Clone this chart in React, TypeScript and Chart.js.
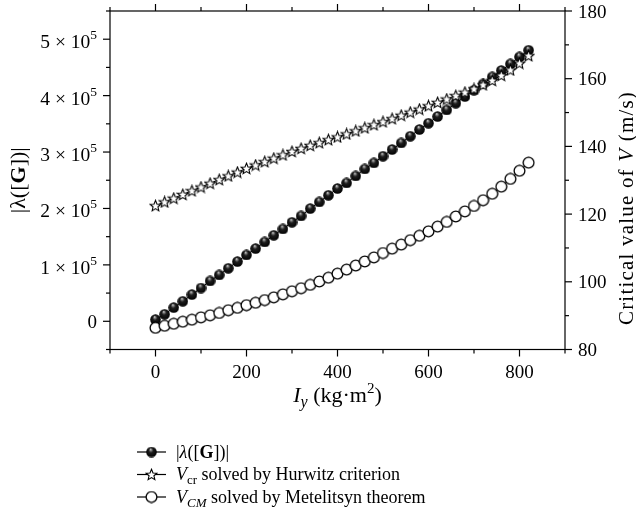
import React, { useEffect, useRef } from "react";
import { Chart, registerables } from "chart.js";

Chart.register(...registerables);

// ---------- data ----------
const iyValues = [
  0, 20, 40, 60, 80, 100, 120, 140, 160, 180, 200, 220, 240, 260, 280, 300, 320, 340, 360, 380, 400,
  420, 440, 460, 480, 500, 520, 540, 560, 580, 600, 620, 640, 660, 680, 700, 720, 740, 760, 780, 800, 820,
];
const lambdaG = [
  3000, 12400, 24300, 35500, 47300, 59000, 71500, 82100, 94000, 105800, 117600, 128900, 140600, 152500,
  163700, 175500, 186700, 199800, 211500, 223400, 235300, 245200, 257600, 270000, 280700, 292600, 304400,
  316100, 328000, 339900, 351100, 362900, 374600, 386500, 398400, 409600, 420700, 433200, 444500, 456200,
  468600, 480500,
];
const vHurwitz = [
  122.5, 123.6, 124.7, 125.8, 126.9, 128.0, 129.1, 130.2, 131.3, 132.4, 133.5, 134.5, 135.5, 136.5, 137.5,
  138.5, 139.4, 140.3, 141.1, 142.0, 142.8, 143.7, 144.6, 145.5, 146.4, 147.3, 148.2, 149.2, 150.1, 151.0,
  152.0, 153.0, 154.0, 155.0, 156.0, 157.0, 158.2, 159.5, 161.0, 162.6, 164.6, 166.8,
];
const vMetelitsyn = [
  86.4, 87.0, 87.6, 88.2, 88.8, 89.5, 90.1, 90.8, 91.6, 92.3, 93.1, 93.8, 94.6, 95.4, 96.3, 97.2, 98.1,
  99.1, 100.1, 101.2, 102.4, 103.6, 104.8, 106.0, 107.2, 108.5, 109.8, 111.0, 112.3, 113.6, 114.9, 116.3,
  117.7, 119.3, 120.8, 122.4, 124.1, 126.0, 128.1, 130.4, 132.8, 135.2,
];

const xMajorTicks = [0, 200, 400, 600, 800];
const xMinorTicks = [-100, 100, 300, 500, 700, 900];
const leftMajorTicks = [0, 100000, 200000, 300000, 400000, 500000];
const leftMinorTicks = [-50000, 50000, 150000, 250000, 350000, 450000, 550000];
const rightMajorTicks = [80, 100, 120, 140, 160, 180];
const rightMinorTicks = [90, 110, 130, 150, 170];

const SERIF = '"Liberation Serif", "DejaVu Serif", serif';
const f = (size: number, style = "") => `${style} ${size}px ${SERIF}`.trim();

type Seg = { t: string; font: string; dy?: number };

function drawSegs(
  ctx: CanvasRenderingContext2D,
  segs: Seg[],
  x: number,
  y: number,
  align: "left" | "center" | "right",
  spacing = 0
) {
  (ctx as any).letterSpacing = `${spacing}px`;
  const widths = segs.map((s) => {
    ctx.font = s.font;
    return ctx.measureText(s.t).width;
  });
  const total = widths.reduce((a, b) => a + b, 0);
  let cx = align === "left" ? x : align === "center" ? x - total / 2 : x - total;
  ctx.textAlign = "left";
  ctx.textBaseline = "alphabetic";
  segs.forEach((s, i) => {
    ctx.font = s.font;
    ctx.fillText(s.t, cx, y + (s.dy || 0));
    cx += widths[i];
  });
  (ctx as any).letterSpacing = "0px";
}

function makeSphere(d: number) {
  const c = document.createElement("canvas");
  c.width = d;
  c.height = d;
  const g = c.getContext("2d")!;
  const r = d / 2;
  const grad = g.createRadialGradient(r - r * 0.15, r - r * 0.5, r * 0.02, r, r, r);
  grad.addColorStop(0, "#f0f0f0");
  grad.addColorStop(0.14, "#8a8a8a");
  grad.addColorStop(0.4, "#1e1e1e");
  grad.addColorStop(1, "#000");
  g.fillStyle = grad;
  g.beginPath();
  g.arc(r, r, r - 0.2, 0, Math.PI * 2);
  g.fill();
  return c;
}

function makeStar(d: number) {
  const c = document.createElement("canvas");
  c.width = d;
  c.height = d;
  const g = c.getContext("2d")!;
  const r = d / 2;
  const ro = r - 0.8;
  const ri = ro * 0.45;
  g.beginPath();
  for (let i = 0; i < 10; i++) {
    const rad = i % 2 === 0 ? ro : ri;
    const a = -Math.PI / 2 + (i * Math.PI) / 5;
    const px = r + rad * Math.cos(a);
    const py = r + 0.5 + rad * Math.sin(a);
    if (i === 0) g.moveTo(px, py);
    else g.lineTo(px, py);
  }
  g.closePath();
  g.fillStyle = "#fff";
  g.fill();
  g.strokeStyle = "#000";
  g.lineWidth = 1.1;
  g.stroke();
  return c;
}

function makeCircle(d: number) {
  const c = document.createElement("canvas");
  c.width = d;
  c.height = d;
  const g = c.getContext("2d")!;
  const r = d / 2;
  g.beginPath();
  g.arc(r, r, r - 1.1, 0, Math.PI * 2);
  g.fillStyle = "#fff";
  g.fill();
  g.strokeStyle = "#000";
  g.lineWidth = 1.3;
  g.stroke();
  return c;
}

export default function App() {
  const ref = useRef<HTMLCanvasElement | null>(null);

  useEffect(() => {
    const canvas = ref.current!;
    const sphere = makeSphere(11);
    const star = makeStar(13);
    const circle = makeCircle(13);

    const decor = {
      id: "decor",
      afterDraw(chart: any) {
        const ctx: CanvasRenderingContext2D = chart.ctx;
        const { left, right, top, bottom } = chart.chartArea;
        const sx = chart.scales.x;
        const sy = chart.scales.y;
        const sy1 = chart.scales.y1;
        ctx.save();
        ctx.strokeStyle = "#000";
        ctx.fillStyle = "#000";
        ctx.lineWidth = 1.2;
        ctx.strokeRect(left, top, right - left, bottom - top);
        const line = (x1: number, y1: number, x2: number, y2: number) => {
          ctx.beginPath();
          ctx.moveTo(x1, y1);
          ctx.lineTo(x2, y2);
          ctx.stroke();
        };
        const MAJ = 7;
        const MIN = 4;
        xMajorTicks.forEach((v) => {
          const p = sx.getPixelForValue(v);
          line(p, bottom, p, bottom + MAJ);
          line(p, top, p, top - MAJ);
        });
        xMinorTicks.forEach((v) => {
          const p = sx.getPixelForValue(v);
          line(p, bottom, p, bottom + MIN);
          line(p, top, p, top - MIN);
        });
        leftMajorTicks.forEach((v) => {
          const p = sy.getPixelForValue(v);
          line(left, p, left - MAJ, p);
        });
        leftMinorTicks.forEach((v) => {
          const p = sy.getPixelForValue(v);
          line(left, p, left - MIN, p);
        });
        rightMajorTicks.forEach((v) => {
          const p = sy1.getPixelForValue(v);
          line(right, p, right + MAJ, p);
        });
        rightMinorTicks.forEach((v) => {
          const p = sy1.getPixelForValue(v);
          line(right, p, right + MIN, p);
        });

        // tick labels
        const TF = f(19);
        xMajorTicks.forEach((v) => {
          drawSegs(ctx, [{ t: String(v), font: TF }], sx.getPixelForValue(v), bottom + 28, "center");
        });
        rightMajorTicks.forEach((v) => {
          drawSegs(ctx, [{ t: String(v), font: TF }], right + 13, sy1.getPixelForValue(v) + 6.5, "left");
        });
        leftMajorTicks.forEach((v) => {
          const p = sy.getPixelForValue(v);
          if (v === 0) {
            drawSegs(ctx, [{ t: "0", font: TF }], left - 13, p + 6.5, "right");
          } else {
            drawSegs(
              ctx,
              [
                { t: `${v / 100000} × 10`, font: f(19.5), dy: 0 },
                { t: "5", font: f(13.5), dy: -9 },
              ],
              left - 13,
              p + 9,
              "right"
            );
          }
        });

        // axis titles
        drawSegs(
          ctx,
          [
            { t: "I", font: f(22, "italic") },
            { t: "y", font: f(16, "italic"), dy: 5 },
            { t: " (kg·m", font: f(22) },
            { t: "2", font: f(15), dy: -9 },
            { t: ")", font: f(22) },
          ],
          (left + right) / 2,
          bottom + 52,
          "center"
        );
        ctx.save();
        ctx.translate(25, (top + bottom) / 2);
        ctx.rotate(-Math.PI / 2);
        drawSegs(
          ctx,
          [
            { t: "|λ([", font: f(22) },
            { t: "G", font: f(22, "bold") },
            { t: "])|", font: f(22) },
          ],
          0,
          0,
          "center"
        );
        ctx.restore();
        ctx.save();
        ctx.translate(633, 208);
        ctx.rotate(-Math.PI / 2);
        drawSegs(
          ctx,
          [
            { t: "Critical value of ", font: f(21) },
            { t: "V", font: f(21, "italic") },
            { t: " (m/s)", font: f(21) },
          ],
          0,
          0,
          "center",
          1.2
        );
        ctx.restore();

        // legend
        const rows: { img: HTMLCanvasElement; segs: Seg[] }[] = [
          {
            img: sphere,
            segs: [
              { t: "|", font: f(18) },
              { t: "λ", font: f(18, "italic") },
              { t: "([", font: f(18) },
              { t: "G", font: f(18, "bold") },
              { t: "])|", font: f(18) },
            ],
          },
          {
            img: star,
            segs: [
              { t: "V", font: f(18, "italic") },
              { t: "cr", font: f(13), dy: 4 },
              { t: " solved by Hurwitz criterion", font: f(18) },
            ],
          },
          {
            img: circle,
            segs: [
              { t: "V", font: f(18, "italic") },
              { t: "CM", font: f(13, "italic"), dy: 4 },
              { t: " solved by Metelitsyn theorem", font: f(18) },
            ],
          },
        ];
        ctx.lineWidth = 1.2;
        rows.forEach((r, i) => {
          const cy = 452 + i * 22.5;
          line(137, cy, 166, cy);
          ctx.drawImage(r.img, 151.5 - r.img.width / 2, cy - r.img.height / 2);
          drawSegs(ctx, r.segs, 176, cy + 5.5, "left");
        });
        ctx.restore();
      },
    };

    const toPts = (ys: number[]) => iyValues.map((x, i) => ({ x, y: ys[i] }));

    const chart = new Chart(canvas, {
      type: "scatter",
      data: {
        datasets: [
          {
            label: "|λ([G])|",
            data: toPts(lambdaG),
            yAxisID: "y",
            showLine: true,
            borderColor: "#000",
            borderWidth: 1,
            pointStyle: sphere as any,
            pointRadius: 5,
            order: 3,
          },
          {
            label: "V_cr solved by Hurwitz criterion",
            data: toPts(vHurwitz),
            yAxisID: "y1",
            showLine: true,
            borderColor: "#000",
            borderWidth: 1,
            pointStyle: star as any,
            pointRadius: 6,
            order: 2,
          },
          {
            label: "V_CM solved by Metelitsyn theorem",
            data: toPts(vMetelitsyn),
            yAxisID: "y1",
            showLine: true,
            borderColor: "#000",
            borderWidth: 1,
            pointStyle: circle as any,
            pointRadius: 6,
            order: 1,
          },
        ],
      },
      options: {
        animation: false,
        responsive: false,
        devicePixelRatio: 1,
        layout: { padding: { top: 11, left: 0, right: 0, bottom: 0 } },
        plugins: { legend: { display: false }, tooltip: { enabled: false } },
        scales: {
          x: {
            type: "linear",
            min: -100,
            max: 900,
            grid: { display: false },
            border: { display: false },
            ticks: { display: false },
            afterFit: (s: any) => {
              s.height = 513 - 349.5;
            },
          },
          y: {
            type: "linear",
            position: "left",
            min: -50000,
            max: 550000,
            grid: { display: false },
            border: { display: false },
            ticks: { display: false },
            afterFit: (s: any) => {
              s.width = 110;
            },
          },
          y1: {
            type: "linear",
            position: "right",
            min: 80,
            max: 180,
            grid: { display: false },
            border: { display: false },
            ticks: { display: false },
            afterFit: (s: any) => {
              s.width = 636 - 565;
            },
          },
        },
      },
      plugins: [decor],
    } as any);

    return () => chart.destroy();
  }, []);

  return (
    <canvas
      ref={ref}
      width={636}
      height={513}
      style={{ position: "absolute", left: 0, top: 0, display: "block", width: 636, height: 513 }}
    />
  );
}
